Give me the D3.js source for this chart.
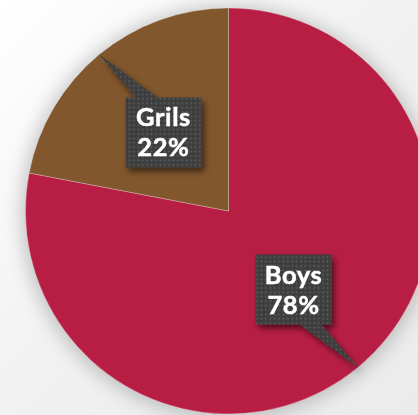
<!DOCTYPE html>
<html>
<head>
<meta charset="utf-8">
<script src="https://cdn.jsdelivr.net/npm/d3@7"></script>
<style>
  html, body { margin: 0; padding: 0; overflow: hidden; }
  svg { display: block; }
</style>
</head>
<body>
<script>
  //============================================================
  // Data
  //------------------------------------------------------------

  var categories = ['Boys', 'Grils'],
      values = [78, 22],
      labels = ['78%', '22%'];

  var colors = ['#b81e44', '#82572d'];

  //============================================================

  var width = 418,
      height = 415,
      cx = 228.5,
      cy = 211,
      radius = 203;

  var svg = d3.select('body').append('svg')
        .attr('width', width)
        .attr('height', height);

  var defs = svg.append('defs');

  // background gradient
  var bg = defs.append('linearGradient').attr('id', 'bg')
        .attr('x1', 0).attr('y1', 0).attr('x2', 1).attr('y2', 1);
  bg.append('stop').attr('offset', 0).attr('stop-color', '#ffffff');
  bg.append('stop').attr('offset', 0.5).attr('stop-color', '#f1f1f1');
  bg.append('stop').attr('offset', 1).attr('stop-color', '#ebebeb');

  defs.append('filter').attr('id', 'pie-shadow')
      .attr('x', '-20%').attr('y', '-20%').attr('width', '140%').attr('height', '140%')
    .append('feGaussianBlur').attr('stdDeviation', 9);

  var boxShadow = defs.append('filter').attr('id', 'box-shadow')
        .attr('x', '-30%').attr('y', '-30%').attr('width', '160%').attr('height', '160%');
  boxShadow.append('feDropShadow')
      .attr('dx', 3).attr('dy', 4)
      .attr('stdDeviation', 3)
      .attr('flood-color', '#000')
      .attr('flood-opacity', 0.55);

  // dotted fill for the callouts
  var pat = defs.append('pattern').attr('id', 'dots')
        .attr('patternUnits', 'userSpaceOnUse')
        .attr('width', 4.4).attr('height', 4.4);
  pat.append('rect').attr('width', 4.4).attr('height', 4.4).attr('fill', '#3e3e3e');
  pat.append('rect').attr('x', 1.4).attr('y', 1.4).attr('width', 1.6).attr('height', 1.6).attr('fill', '#626262');

  svg.append('rect')
      .attr('width', width)
      .attr('height', height)
      .attr('fill', 'url(#bg)');

  //------------------------------------------------------------
  // Pie

  var pie = d3.pie().sort(null).value(function(d) { return d; });
  var arcs = pie(values);

  var arc = d3.arc().innerRadius(0).outerRadius(radius);

  var g = svg.append('g').attr('transform', 'translate(' + cx + ',' + cy + ')');

  g.append('circle')
      .attr('r', radius + 4)
      .attr('cy', 2)
      .attr('fill', '#a0a0a0')
      .attr('opacity', 0.6)
      .attr('filter', 'url(#pie-shadow)');

  g.selectAll('path.slice')
      .data(arcs)
    .enter().append('path')
      .attr('class', 'slice')
      .attr('d', arc)
      .attr('fill', function(d, i) { return colors[i]; })
      .attr('stroke', 'rgba(255,255,255,0.35)')
      .attr('stroke-width', 0.8);

  //------------------------------------------------------------
  // Callouts

  var boxW = 76,
      boxH = 70,
      labelRadius = 102,
      tipRadius = radius + 0.5;

  function polar(a, r) {
    return [Math.sin(a) * r, -Math.cos(a) * r];
  }

  var callouts = g.selectAll('g.callout')
        .data(arcs)
      .enter().append('g')
        .attr('class', 'callout')
        .attr('filter', 'url(#box-shadow)');

  callouts.each(function(d, i) {
    var a = (d.startAngle + d.endAngle) / 2,
        c = polar(a, labelRadius),
        tip = polar(a, tipRadius),
        x0 = c[0] - boxW / 2,
        y0 = c[1] - boxH / 2,
        side = tip[0] < c[0] ? -1 : 1,
        edgeY = tip[1] < c[1] ? y0 : y0 + boxH,
        b1 = c[0] + side * 6,
        b2 = c[0] + side * 28;

    var sel = d3.select(this);
    sel.append('path')
        .attr('d', 'M' + x0 + ',' + y0 + 'h' + boxW + 'v' + boxH + 'h' + (-boxW) + 'Z' +
                   'M' + b1 + ',' + edgeY + 'L' + tip[0] + ',' + tip[1] + 'L' + b2 + ',' + edgeY + 'Z')
        .attr('fill', 'url(#dots)');

    var text = sel.append('text')
        .attr('text-anchor', 'middle')
        .attr('fill', '#ffffff')
        .attr('stroke', '#ffffff')
        .attr('stroke-width', 0.5)
        .attr('letter-spacing', 0.6)
        .attr('font-family', 'Lato, "Open Sans", sans-serif')
        .attr('font-weight', 'bold')
        .attr('font-size', 25.5);
    text.append('tspan')
        .attr('x', c[0])
        .attr('y', c[1] - 6)
        .text(categories[i]);
    text.append('tspan')
        .attr('x', c[0])
        .attr('y', c[1] + 24)
        .text(labels[i]);
  });
</script>
</body>
</html>
